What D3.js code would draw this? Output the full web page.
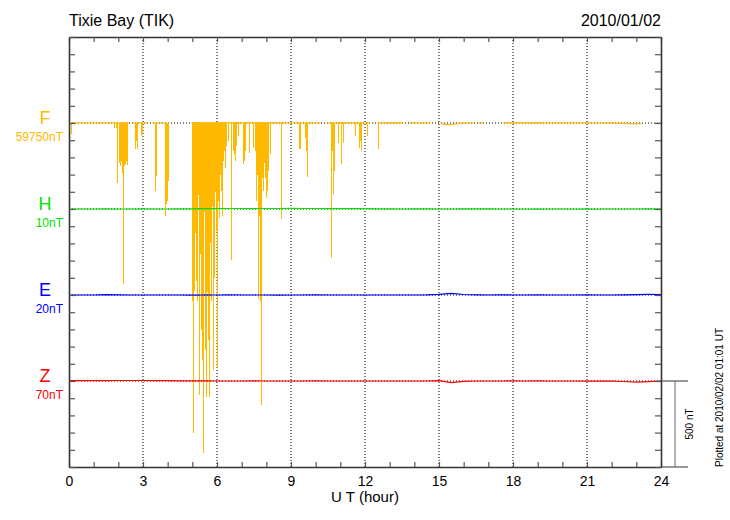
<!DOCTYPE html>
<html><head><meta charset="utf-8">
<script src="https://cdn.jsdelivr.net/npm/d3@7"></script>
<style>
body{margin:0;background:#fff}
svg{display:block}
text{font-family:"Liberation Sans",Arial,Helvetica,sans-serif}
</style>
</head><body>
<svg id="chart" width="730" height="520"></svg>
<script>
// ---------------- data ----------------
const stationTitle = "Tixie Bay (TIK)";
const dateLabel = "2010/01/02";
const plottedLabel = "Plotted at 2010/02/02 01:01 UT";
const xTickLabels = [0, 3, 6, 9, 12, 15, 18, 21, 24];
const components = ["F", "H", "E", "Z"];
const baselineLabels = ["59750nT", "10nT", "20nT", "70nT"];
const componentColors = ["#FFB900", "#00E000", "#0000FF", "#FF0000"];
const scaleBarNT = 500;

// F: baseline deviation (nT), null = data gap
const fBase = [
  [0,0],[0.25,1],[0.5,0],[0.75,1],[1,0],[1.25,1],[1.5,0],[1.75,1],[2,0],[2.25,1],[2.45,0],[2.5,null],
  [2.6,0],[2.8,1],[3.0,0],[3.15,1],[3.2,null],[3.38,0],[3.6,1],[3.8,0],[3.97,0],[4.0,null],
  [4.95,0],[5.2,2],[5.5,1],[5.75,2],[6,1],[6.25,2],[6.5,1],[6.75,2],[7,1],[7.25,2],[7.5,1],[7.75,2],
  [8,1],[8.25,2],[8.5,1],[8.75,1],[9,0],[9.25,1],[9.5,0],[9.75,1],[10,0],[10.2,1],[10.25,null],
  [10.45,0],[10.75,1],[11,1],[11.25,2],[11.5,1],[11.75,1],[12,0],[12.2,1],[12.25,null],
  [12.5,0],[12.75,1],[13,1],[13.25,2],[13.55,1],[13.6,null],
  [13.8,1],[14.1,0],[14.4,1],[14.65,0],[14.7,null],
  [15.05,0],[15.2,-8],[15.4,-10],[15.6,-6],[15.8,-3],[16,-1],[16.2,0],[16.4,1],[16.45,null],
  [16.6,0],[16.8,1],[16.85,null],
  [17.6,1],[17.8,2],[18,1],[18.25,2],[18.5,1],[18.75,1],[19,2],[19.25,1],[19.5,0],[19.75,1],[20,1],
  [20.25,0],[20.5,1],[20.75,0],[21,1],[21.25,0],[21.5,0],[21.75,-1],[22,0],[22.25,-1],[22.5,-2],
  [22.75,-4],[23,-5],[23.2,-3],[23.25,null],
  [23.9,0],[24,0]
];

// F: downward spikes [hour, drop in nT]
const fSpikes = [
  [0.08,64],[1.82,29],[1.91,29],[1.95,348],[2.03,232],[2.07,249],[2.11,220],[2.15,290],[2.19,934],
  [2.23,249],[2.27,238],[2.31,220],[2.35,244],[2.68,151],[2.72,104],[2.76,151],[2.92,75],[2.96,58],
  [3.49,394],[3.53,307],[3.89,540],[3.93,470],[3.97,452],[4.01,336],
  [4.99,1032],[5.03,1801],[5.07,974],[5.11,640],[5.15,916],[5.19,1032],[5.23,420],[5.27,1583],
  [5.31,760],[5.35,1206],[5.39,1380],[5.43,1920],[5.47,520],[5.51,1322],[5.55,1595],[5.60,980],
  [5.64,1264],[5.68,1595],[5.72,700],[5.76,1032],[5.80,480],[5.84,1438],[5.88,900],[5.92,400],
  [5.96,626],[6.00,1427],[6.04,452],[6.08,551],[6.12,300],[6.16,394],[6.20,539],[6.24,220],
  [6.28,162],[6.32,261],[6.37,133],[6.45,104],[6.57,795],[6.65,162],[6.69,180],[6.73,220],
  [6.77,133],[6.85,75],[7.05,238],[7.09,220],[7.13,162],[7.30,174],[7.46,145],[7.54,162],
  [7.58,452],[7.62,300],[7.66,1021],[7.70,540],[7.74,1032],[7.78,1641],[7.82,319],[7.86,394],
  [7.91,230],[7.95,319],[7.99,435],[8.03,394],[8.07,278],[8.15,180],[8.59,556],
  [9.32,151],[9.36,151],[9.57,87],[9.61,162],[9.65,313],
  [10.62,785],[10.66,162],[10.70,412],[10.74,278],[10.91,116],[11.03,238],[11.11,116],
  [11.59,75],[11.76,145],[11.80,104],[11.84,162],[12.08,75],[12.53,151]
];

// H, E, Z: deviations (nT) every half hour, 0 .. 24 h
const halfHours = d3.range(0, 24.01, 0.5);
const hValues = [0,0,0,1,0,0,1,0,0,1,1,2,2,3,3,2,3,3,4,3,3,2,2,3,2,1,1,0,1,1,0,0,1,1,1,0,0,0,-1,0,0,0,-1,0,0,0,0,1,0];
const eValues = [0,0,0,2,1,0,0,0,0,0,-1,0,0,1,0,0,0,-1,0,0,1,0,0,0,0,0,0,0,0,1,4,9,3,1,0,1,0,0,1,0,0,0,1,0,0,1,2,4,3];
const zValues = [2,3,2,2,3,3,3,2,2,1,1,1,0,0,0,1,0,0,0,0,1,0,0,0,0,0,0,0,0,0,2,-9,-2,0,0,0,1,0,1,0,0,0,-1,0,-1,-3,-7,-4,0];

// ---------------- layout ----------------
const svg = d3.select("#chart");
const L = 69, R = 661, T = 37, B = 467;
const x = d3.scaleLinear().domain([0, 24]).range([L, R]);
// vertical axis in nT offset from top of panel; each trace has its own baseline
const y = d3.scaleLinear().domain([0, 2500]).range([T, B]);
const baseOffsets = [500, 1000, 1500, 2000];

// gridlines
const grid = svg.append("g");
grid.selectAll("line.v").data(xTickLabels.filter(d => d > 0 && d < 24)).join("line")
  .attr("x1", d => x(d)).attr("x2", d => x(d)).attr("y1", T).attr("y2", B)
  .attr("stroke", "#000").attr("stroke-width", 1).attr("stroke-dasharray", "1,2");
grid.selectAll("line.h").data(baseOffsets).join("line")
  .attr("x1", L).attr("x2", R).attr("y1", d => y(d)).attr("y2", d => y(d))
  .attr("stroke", "#000").attr("stroke-width", 1).attr("stroke-dasharray", "1,2");

// F spikes (crisp 1px vertical strokes)
svg.append("g").attr("shape-rendering", "crispEdges")
  .selectAll("line").data(fSpikes).join("line")
  .attr("x1", d => Math.round(x(d[0])) + 0.5).attr("x2", d => Math.round(x(d[0])) + 0.5)
  .attr("y1", y(baseOffsets[0])).attr("y2", d => y(baseOffsets[0] + d[1]))
  .attr("stroke", componentColors[0]).attr("stroke-width", 1);

// F baseline trace
const fLine = d3.line().defined(d => d[1] !== null)
  .x(d => x(d[0])).y(d => y(baseOffsets[0] - d[1]));
svg.append("path").datum(fBase).attr("d", fLine)
  .attr("fill", "none").attr("stroke", componentColors[0]).attr("stroke-width", 1.2);

// H, E, Z traces
[hValues, eValues, zValues].forEach((vals, i) => {
  const off = baseOffsets[i + 1];
  const line = d3.line().x((d, j) => x(halfHours[j])).y(d => y(off - d));
  svg.append("path").datum(vals).attr("d", line)
    .attr("fill", "none").attr("stroke", componentColors[i + 1]).attr("stroke-width", 1.2);
});

// axes (ticks pointing inward)
const axisColor = "#333";
function styleAxis(g) {
  g.select(".domain").attr("stroke", axisColor).attr("stroke-width", 1.6);
  g.selectAll(".tick line").attr("stroke", "#555").attr("stroke-width", 1.2);
  g.selectAll(".tick text").attr("fill", "#000").style("font-family", '"Liberation Sans",Arial,sans-serif');
}
const hourTicks = d3.range(0, 25, 1);
const nTTicks = d3.range(0, 2501, 100);
svg.append("g").attr("transform", `translate(0,${B})`)
  .call(d3.axisBottom(x).tickValues(hourTicks).tickSizeInner(-5).tickSizeOuter(0).tickPadding(9)
    .tickFormat(d => xTickLabels.includes(d) ? d : ""))
  .call(styleAxis).call(g => g.selectAll(".tick text").attr("font-size", 14));
svg.append("g").attr("transform", `translate(0,${T})`)
  .call(d3.axisTop(x).tickValues(hourTicks).tickSizeInner(-5).tickSizeOuter(0).tickFormat(""))
  .call(styleAxis);
svg.append("g").attr("transform", `translate(${L},0)`)
  .call(d3.axisLeft(y).tickValues(nTTicks).tickSizeInner(-6).tickSizeOuter(0).tickFormat(""))
  .call(styleAxis);
svg.append("g").attr("transform", `translate(${R},0)`)
  .call(d3.axisRight(y).tickValues(nTTicks).tickSizeInner(-6).tickSizeOuter(0).tickFormat(""))
  .call(styleAxis);

// scale bar (500 nT) at right of Z trace
const sbTop = y(baseOffsets[3]), sbBot = y(baseOffsets[3] + scaleBarNT);
const sb = svg.append("g").attr("stroke", "#333").attr("stroke-width", 1);
sb.append("line").attr("x1", R).attr("x2", 688).attr("y1", sbTop).attr("y2", sbTop);
sb.append("line").attr("x1", R).attr("x2", 688).attr("y1", sbBot).attr("y2", sbBot);
sb.append("line").attr("x1", 675).attr("x2", 675).attr("y1", sbTop).attr("y2", sbBot).attr("stroke", "#666");
svg.append("text").attr("transform", `translate(693,${(sbTop + sbBot) / 2}) rotate(-90)`)
  .attr("text-anchor", "middle").attr("font-size", 10).text(scaleBarNT + " nT");
svg.append("text").attr("transform", `translate(723,${B}) rotate(-90)`)
  .attr("text-anchor", "start").attr("font-size", 10).text(plottedLabel);

// component labels
components.forEach((c, i) => {
  const yy = y(baseOffsets[i]);
  svg.append("text").attr("x", 45).attr("y", yy + 0.5).attr("text-anchor", "middle")
    .attr("font-size", 18).attr("fill", componentColors[i]).text(c);
  svg.append("text").attr("x", 63).attr("y", yy + 18).attr("text-anchor", "end")
    .attr("font-size", 12).attr("fill", componentColors[i]).text(baselineLabels[i]);
});

// titles
svg.append("text").attr("x", L).attr("y", 26).attr("font-size", 16).text(stationTitle);
svg.append("text").attr("x", R).attr("y", 26).attr("text-anchor", "end").attr("font-size", 16).text(dateLabel);
svg.append("text").attr("x", (L + R) / 2).attr("y", 502).attr("text-anchor", "middle").attr("font-size", 15).text("U T (hour)");
</script>
</body></html>
